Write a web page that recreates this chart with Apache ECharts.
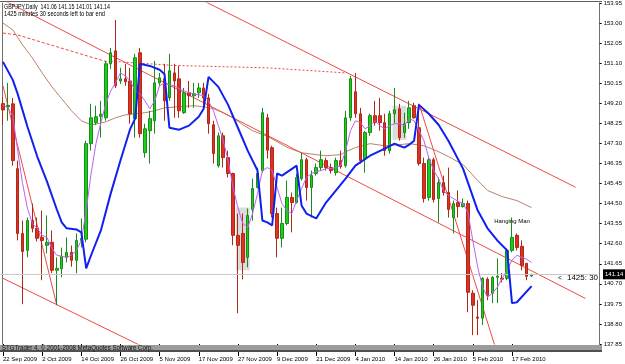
<!DOCTYPE html>
<html>
<head>
<meta charset="utf-8">
<script src="https://cdn.jsdelivr.net/npm/echarts@6/dist/echarts.min.js"></script>
<style>
  html, body { margin: 0; padding: 0; background: #fff; }
  #main { width: 625px; height: 364px; }
</style>
</head>
<body>
<div id="main"></div>
<script>
// GBPJPY daily bars, 22 Sep 2009 .. 23 Feb 2010
var dates = [
  '22 Sep 2009','23 Sep 2009','24 Sep 2009','25 Sep 2009','28 Sep 2009','29 Sep 2009','30 Sep 2009',
  '1 Oct 2009','2 Oct 2009','5 Oct 2009','6 Oct 2009','7 Oct 2009','8 Oct 2009','9 Oct 2009',
  '12 Oct 2009','13 Oct 2009','14 Oct 2009','15 Oct 2009','16 Oct 2009','19 Oct 2009','20 Oct 2009',
  '21 Oct 2009','22 Oct 2009','23 Oct 2009','26 Oct 2009','27 Oct 2009','28 Oct 2009','29 Oct 2009',
  '30 Oct 2009','2 Nov 2009','3 Nov 2009','4 Nov 2009','5 Nov 2009','6 Nov 2009','9 Nov 2009',
  '10 Nov 2009','11 Nov 2009','12 Nov 2009','13 Nov 2009','16 Nov 2009','17 Nov 2009','18 Nov 2009',
  '19 Nov 2009','20 Nov 2009','23 Nov 2009','24 Nov 2009','25 Nov 2009','26 Nov 2009','27 Nov 2009',
  '30 Nov 2009','1 Dec 2009','2 Dec 2009','3 Dec 2009','4 Dec 2009','7 Dec 2009','8 Dec 2009',
  '9 Dec 2009','10 Dec 2009','11 Dec 2009','14 Dec 2009','15 Dec 2009','16 Dec 2009','17 Dec 2009',
  '18 Dec 2009','21 Dec 2009','22 Dec 2009','23 Dec 2009','24 Dec 2009','28 Dec 2009','29 Dec 2009',
  '30 Dec 2009','31 Dec 2009','4 Jan 2010','5 Jan 2010','6 Jan 2010','7 Jan 2010','8 Jan 2010',
  '11 Jan 2010','12 Jan 2010','13 Jan 2010','14 Jan 2010','15 Jan 2010','18 Jan 2010','19 Jan 2010',
  '20 Jan 2010','21 Jan 2010','22 Jan 2010','25 Jan 2010','26 Jan 2010','27 Jan 2010','28 Jan 2010',
  '29 Jan 2010','1 Feb 2010','2 Feb 2010','3 Feb 2010','4 Feb 2010','5 Feb 2010','8 Feb 2010',
  '9 Feb 2010','10 Feb 2010','11 Feb 2010','12 Feb 2010','15 Feb 2010','16 Feb 2010','17 Feb 2010',
  '18 Feb 2010','19 Feb 2010','22 Feb 2010','23 Feb 2010'
];

var opens = [
  149.20,149.05,149.19,146.13,143.07,142.27,143.68,143.31,142.88,142.51,
  142.65,141.33,141.40,141.94,142.18,141.80,142.74,142.80,147.31,148.30,
  148.60,148.53,151.08,151.69,150.27,150.37,150.27,148.49,151.60,146.88,
  147.92,148.39,150.18,150.37,149.47,150.65,150.37,148.77,149.71,149.57,
  149.71,149.94,149.47,148.20,146.27,147.68,146.65,145.90,142.98,143.07,
  141.94,144.20,145.24,146.04,148.53,147.12,144.01,142.84,143.54,144.77,
  144.53,145.66,146.55,145.24,145.90,146.18,146.51,146.18,145.94,146.51,
  146.27,148.53,149.76,148.72,146.60,147.83,148.63,148.63,148.30,146.98,
  148.72,148.96,147.83,148.30,149.10,148.06,146.37,144.77,146.55,144.72,
  145.47,145.00,143.82,144.53,144.34,144.48,140.25,139.12,139.07,140.91,
  140.25,141.00,140.95,140.95,142.27,142.98,142.46,141.66,141.06
];
var closes = [
  148.90,149.12,146.51,143.07,142.22,143.68,143.31,142.84,142.74,142.65,
  141.33,141.42,142.00,142.18,141.80,142.74,142.84,147.31,148.53,148.58,
  148.70,151.08,151.60,150.04,150.37,150.23,148.72,151.36,147.78,148.01,
  148.49,150.18,150.42,149.33,150.75,150.27,148.86,149.71,149.57,149.66,
  149.94,149.47,148.25,146.84,147.68,146.65,145.90,142.98,142.51,141.70,
  143.92,145.19,145.90,148.77,147.00,144.01,142.84,143.54,144.77,144.53,
  145.71,146.55,145.24,145.80,146.18,146.55,146.18,146.04,146.51,146.23,
  148.53,150.37,148.72,146.51,147.83,148.63,148.30,148.30,146.98,148.72,
  148.91,147.59,148.25,149.00,148.53,146.37,144.72,146.55,144.67,145.47,
  145.00,144.20,144.48,144.34,144.48,140.29,139.68,139.07,140.95,140.15,
  141.00,141.05,140.91,142.27,142.88,142.41,141.56,141.05,141.14
];
var lows = [
  148.20,148.39,146.27,142.74,139.73,141.94,143.12,142.69,140.86,142.13,
  141.20,139.68,141.00,141.70,141.50,141.19,142.41,142.65,146.98,148.20,
  147.60,148.39,150.84,149.94,150.13,150.04,148.25,147.59,147.59,146.65,
  146.37,147.78,150.04,148.39,149.33,148.53,148.53,148.72,149.00,149.00,
  149.47,149.00,147.78,146.37,146.18,146.18,145.71,142.51,139.30,140.90,
  141.47,143.68,145.19,145.94,146.60,143.82,141.94,142.41,143.45,143.12,
  144.48,145.57,144.62,143.82,145.80,146.04,146.04,145.90,145.80,146.13,
  146.18,148.39,148.53,146.37,145.94,147.68,148.16,147.92,146.74,146.84,
  148.25,147.45,147.59,148.01,148.49,146.27,144.53,144.62,144.53,143.59,
  144.86,143.82,143.07,143.82,144.29,139.35,138.27,138.27,138.74,139.92,
  139.78,139.78,140.76,140.86,142.18,142.27,141.33,140.86,141.01
];
var highs = [
  149.50,150.18,149.47,146.51,143.68,143.82,144.48,143.82,144.15,143.92,
  143.21,141.94,142.40,142.88,142.50,143.07,143.78,147.45,149.19,149.10,
  149.33,151.22,151.83,153.15,150.89,151.08,150.89,151.55,151.83,148.25,
  148.86,151.22,150.65,151.08,151.55,151.08,150.98,149.94,150.27,150.18,
  150.18,150.18,149.66,148.39,147.83,147.83,146.98,145.94,144.01,144.01,
  144.25,145.66,146.18,149.00,148.72,147.21,144.29,144.29,145.57,145.00,
  145.90,146.88,146.65,146.04,146.37,146.98,146.65,146.37,146.65,146.98,
  148.86,150.51,150.65,149.00,147.90,148.72,149.33,149.47,148.72,148.86,
  149.94,149.19,148.77,149.33,149.24,149.19,146.65,146.65,146.65,145.71,
  145.80,146.18,144.62,145.10,144.72,144.62,140.39,139.92,141.00,141.00,
  141.05,141.89,141.20,142.36,143.82,143.07,142.74,141.66,141.15
];

// fast moving average (violet), one value per bar
var fastMa = [
  149.14,149.00,148.63,146.98,145.43,144.25,143.54,143.31,142.98,142.88,
  142.36,142.04,141.99,141.94,142.04,142.27,142.74,144.15,145.90,147.31,
  148.30,149.19,149.80,150.18,150.65,150.51,150.27,149.80,149.66,149.33,
  148.96,149.33,150.04,150.18,150.09,150.04,149.90,149.80,149.71,149.66,
  149.62,149.57,149.33,148.86,148.16,147.45,146.51,145.24,144.29,143.54,
  143.35,144.01,144.95,146.04,146.18,146.04,145.24,144.48,144.15,144.01,
  144.62,145.19,145.71,145.90,145.99,146.04,146.13,146.13,146.18,146.27,
  146.98,147.92,148.39,148.30,148.01,148.16,148.39,148.16,148.01,148.16,
  148.25,148.25,148.16,148.49,148.39,147.92,147.45,146.65,146.04,145.66,
  145.10,144.86,144.72,144.58,144.48,144.06,142.74,141.47,140.53,140.06,
  140.25,140.53,140.95,141.33,141.80,142.04,141.94,141.85,141.70
];

// slow moving average (brown), [bar, price]
var slowMa = [
  [0,153.00],[2,152.68],[4,151.97],[6,151.36],[8,150.65],[10,149.99],[12,149.43],
  [14,148.86],[16,148.39],[18,148.20],[19,148.23],[21,148.34],[23,148.53],[25,148.67],
  [27,148.72],[29,148.77],[31,148.86],[33,149.00],[36,149.05],[39,149.10],[41,149.05],
  [43,148.96],[45,148.77],[47,148.53],[49,148.20],[51,147.92],[54,147.66],[56,147.40],
  [58,147.14],[61,146.88],[64,146.79],[66,146.74],[69,146.79],[70,146.93],[72,147.12],
  [75,147.31],[78,147.21],[81,147.26],[83,147.31],[86,147.21],[89,146.93],[91,146.70],
  [94,146.32],[97,145.57],[99,145.10],[102,144.81],[105,144.62],[108,144.29]
];

// thick blue stepping line, [bar, price]
var blueLine = [
  [0,151.17],[2,150.32],[3,149.66],[5,148.11],[7,146.70],[9,145.52],[11,144.20],
  [12,143.59],[13,143.31],[15,143.26],[16,143.12],[17,141.42],[18,142.04],[20,143.21],
  [22,144.95],[24,146.51],[26,148.01],[27,148.49],[28,151.08],[30,150.98],[32,150.80],
  [33,150.60],[34,148.06],[36,147.97],[38,148.16],[40,148.58],[41,148.96],[42,150.46],
  [44,149.99],[46,149.14],[48,148.06],[50,146.98],[52,146.04],[53,143.68],[54,143.59],
  [55,143.45],[56,145.90],[57,145.80],[60,146.27],[61,144.39],[62,144.01],[64,143.78],
  [66,144.53],[70,145.66],[72,146.27],[75,146.74],[78,147.07],[80,147.31],[81,147.21],
  [82,147.12],[83,147.26],[84,147.45],[85,149.14],[87,148.72],[89,148.20],[91,147.45],
  [94,146.13],[97,144.15],[99,143.31],[101,142.74],[103,142.27],[104,139.78],[105,139.82],
  [108,140.58]
];

// hand-drawn trend lines, [bar, price]
var trendA = [[41,154.05],[117,145.25]];
var trendB = [[0,154.10],[119,140.00]];
var trendC = [[0,150.04],[11,139.68]];
var trendD = [[85,149.19],[102,136.66]];
var trendE = [[0,140.95],[40,136.43]];
var dashedTop = [[0,152.53],[3,152.44],[22,151.12]];
var dottedTop = [[22,151.20],[35,151.00],[54,150.89],[70,150.65]];

var priceTicks = ['137.85','138.80','139.75','140.70','141.65','142.60','143.55','144.50','145.45',
  '146.35','147.30','148.25','149.20','150.15','151.10','152.05','153.00','153.95'];
var lastPrice = 141.14;

var padBars = 13;
var cats = dates.slice();
for (var k = 0; k < padBars; k++) cats.push('pad' + k);

var candles = [];
for (var i = 0; i < dates.length; i++) {
  candles.push([opens[i], closes[i], lows[i], highs[i]]);
}

var tiny = "'Liberation Sans', Arial, sans-serif";
var showTick = function (idx) { return idx % 8 === 0 && idx < dates.length; };

function trend(data, dashed) {
  return {
    type: 'line', data: data, symbol: 'none', silent: true, z: 3,
    lineStyle: { color: '#f04848', width: 1, type: dashed || 'solid' }
  };
}

// squeeze a text to the width it has in the screenshot
var meas = document.createElement('canvas').getContext('2d');
function squeezed(str, x, y, px, width, color) {
  meas.font = px + 'px ' + tiny;
  var s = width / meas.measureText(str).width;
  return {
    type: 'text', z: 101, x: x, y: y, scaleX: s, scaleY: 1,
    style: { text: str, font: px + 'px ' + tiny, fill: color, verticalAlign: 'middle' }
  };
}

var chart = echarts.init(document.getElementById('main'));
chart.setOption({
  animation: false,
  backgroundColor: '#fff',
  grid: { left: 0, width: 600, top: 2, bottom: 20 },
  xAxis: {
    type: 'category', data: cats, boundaryGap: true,
    axisLine: { show: false },
    axisTick: { show: true, interval: showTick, alignWithLabel: true, length: 12, lineStyle: { color: '#000' } },
    axisLabel: { interval: showTick, showMinLabel: true, align: 'left', margin: 12, fontSize: 6, color: '#000', fontFamily: tiny },
    splitLine: { show: false }
  },
  yAxis: [{
    type: 'value', min: 137.85, max: 153.95, position: 'left', offset: -2,
    axisLine: { show: true, lineStyle: { color: '#707070' } },
    axisTick: { show: false }, axisLabel: { show: false }, splitLine: { show: false }
  }, {
    type: 'category', data: priceTicks, boundaryGap: false, position: 'right', offset: 2,
    axisLine: { show: true, lineStyle: { color: '#707070' } },
    axisTick: { show: true, length: 2, lineStyle: { color: '#000' } },
    axisLabel: { margin: 4, fontSize: 6, color: '#000', fontFamily: tiny },
    splitLine: { show: false }
  }],
  series: [
    {
      type: 'candlestick', data: candles, barWidth: 3, z: 4,
      itemStyle: {
        color: '#18d018', color0: '#e03020',
        borderColor: '#1a8a1a', borderColor0: '#b02818', borderWidth: 1
      },
      markLine: {
        silent: true, symbol: 'none', label: { show: false },
        lineStyle: { color: '#c8c8c8', type: 'solid', width: 1 },
        data: [{ yAxis: lastPrice }]
      },
      markArea: {
        silent: true,
        itemStyle: { color: '#dcdcdc', borderColor: '#dcdcdc', borderWidth: 4 },
        data: [
          [{ xAxis: 48, yAxis: 144.20 }, { xAxis: 50, yAxis: 141.43 }],
          [{ xAxis: 80, yAxis: 149.00 }, { xAxis: 82, yAxis: 147.59 }]
        ]
      }
    },
    { type: 'line', data: slowMa, symbol: 'none', silent: true, z: 3,
      lineStyle: { color: '#b8846a', width: 1 } },
    { type: 'line', data: fastMa, symbol: 'none', silent: true, z: 5,
      lineStyle: { color: '#c060f0', width: 1 } },
    { type: 'line', data: blueLine, symbol: 'none', silent: true, z: 6,
      lineStyle: { color: '#1020f0', width: 2 } },
    trend(trendA), trend(trendB), trend(trendC), trend(trendD), trend(trendE),
    trend(dashedTop, [3, 2]), trend(dottedTop, [2, 2])
  ]
});

var tagY = chart.convertToPixel({ yAxisIndex: 0 }, lastPrice);
var hm = chart.convertToPixel({ xAxisIndex: 0, yAxisIndex: 0 }, [104, 143.64]);

chart.setOption({
  graphic: [
    { type: 'line', z: 100, shape: { x1: 0, y1: 1.5, x2: 602, y2: 1.5 }, style: { stroke: '#606060', lineWidth: 1 } },
    { type: 'rect', z: 100, shape: { x: 0, y: 345, width: 602, height: 5 }, style: { fill: '#9c9c9c' } },
    { type: 'rect', z: 100, shape: { x: 0, y: 350, width: 602, height: 2 }, style: { fill: '#505050' } },
    squeezed('STGTrader 4, \u00a9 2001-2008 MetaQuotes Software Corp.', 2, 348, 7, 151, '#111'),
    squeezed('GBPJPY,Daily  141.06 141.15 141.01 141.14', 4, 7, 7, 106, '#000'),
    squeezed('1425 minutes 30 seconds left to bar end', 4, 14, 7, 101, '#000'),
    { type: 'text', z: 101, x: hm[0], y: hm[1], style: { text: 'Hanging Man', font: '6px ' + tiny, fill: '#000', align: 'center', verticalAlign: 'middle' } },
    squeezed('<', 558, tagY + 3.5, 7, 4, '#000'),
    squeezed('1425: 30', 567, tagY + 3.5, 7, 31, '#000'),
    { type: 'rect', z: 101, shape: { x: 603, y: tagY - 5, width: 22, height: 10 }, style: { fill: '#000' } },
    { type: 'text', z: 102, x: 605, y: tagY, style: { text: lastPrice.toFixed(2), font: '6px ' + tiny, fill: '#fff', verticalAlign: 'middle' } }
  ]
});
</script>
</body>
</html>
